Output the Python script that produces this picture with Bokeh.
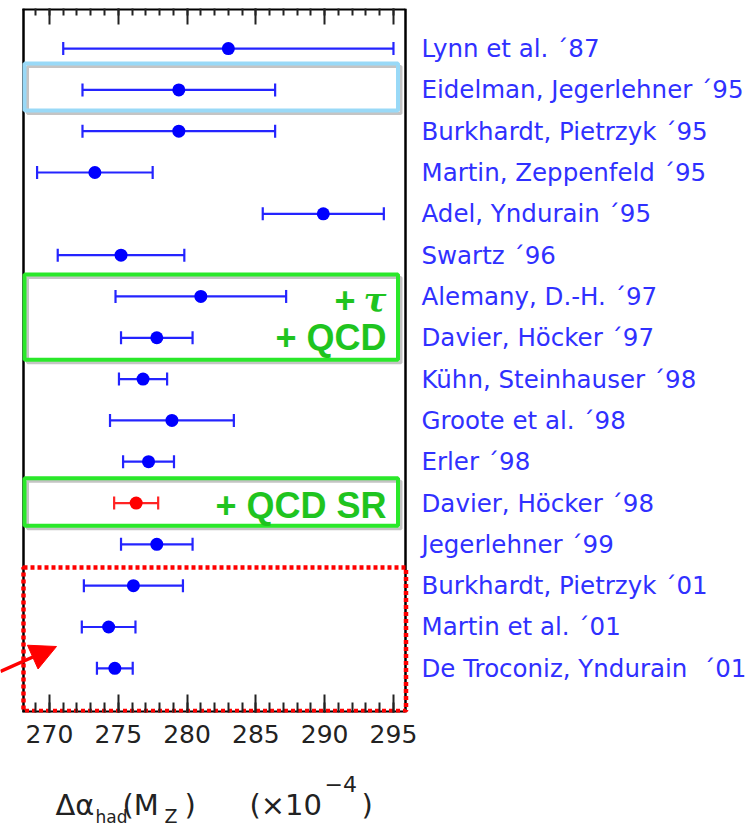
from bokeh.plotting import figure
from bokeh.layouts import column
from bokeh.models import (Range1d, LinearAxis, FixedTicker, ColumnDataSource,
                          Whisker, TeeHead, Arrow, NormalHead)
from bokeh.core.properties import value
from bokeh.embed import file_html
from bokeh.resources import INLINE

# Determinations of the hadronic contribution to the running QED coupling at M_Z (x 10^-4)
authors = [
    "Lynn et al. ´87",
    "Eidelman, Jegerlehner ´95",
    "Burkhardt, Pietrzyk ´95",
    "Martin, Zeppenfeld ´95",
    "Adel, Yndurain ´95",
    "Swartz ´96",
    "Alemany, D.-H. ´97",
    "Davier, Höcker ´97",
    "Kühn, Steinhauser ´98",
    "Groote et al. ´98",
    "Erler ´98",
    "Davier, Höcker ´98",
    "Jegerlehner ´99",
    "Burkhardt, Pietrzyk ´01",
    "Martin et al. ´01",
    "De Troconiz, Yndurain\u00a0 ´01",
]
central = [283.0, 279.4, 279.4, 273.3, 289.9, 275.2, 281.0, 277.8,
           276.8, 278.9, 277.2, 276.3, 277.8, 276.1, 274.3, 274.75]
error = [12.0, 7.0, 7.0, 4.2, 4.4, 4.6, 6.2, 2.6,
         1.75, 4.5, 1.85, 1.6, 2.6, 3.6, 1.95, 1.3]
highlight = "Davier, Höcker ´98"

# annotated groups: (first row, last row)
eidelman_rows = (2, 2)
tau_rows = (7, 8)
qcdsr_rows = (12, 12)
recent_rows = (14, 16)

tick_values = [270, 275, 280, 285, 290, 295]
minor_values = list(range(269, 296))

# ---------------------------------------------------------------- geometry
W, H_MAIN, H_TITLE = 750, 762, 64
B_TOP, B_BOTTOM = 8, 50
FRAME_H = H_MAIN - B_TOP - B_BOTTOM
CH_X0, CH_X1 = 268.04, 295.87          # data limits of the boxed panel
XPX = 13.76                             # pixels per unit of x
PANEL_LEFT = 22                         # pixel column of the panel's left edge
X_LO = CH_X0 - PANEL_LEFT / XPX
X_HI = X_LO + W / XPX
Y_TOP, Y_BOT = 0.03, 17.07
YPX = FRAME_H / (Y_BOT - Y_TOP)


def dx(px):
    """pixel column -> x data value"""
    return X_LO + px / XPX


def dy(py):
    """pixel row -> y data value"""
    return Y_TOP + (py - B_TOP) / YPX


rows = list(range(1, len(authors) + 1))
lo = [c - e for c, e in zip(central, error)]
hi = [c + e for c, e in zip(central, error)]

p = figure(width=W, height=H_MAIN, output_backend="svg", toolbar_location=None,
           x_range=Range1d(X_LO, X_HI), y_range=Range1d(Y_BOT, Y_TOP),
           y_axis_location=None, min_border_left=0, min_border_right=0,
           min_border_top=B_TOP, min_border_bottom=B_BOTTOM)
p.grid.visible = False
p.background_fill_color = "white"
p.border_fill_color = "white"
p.outline_line_color = None

xa = p.xaxis[0]
xa.ticker = FixedTicker(ticks=tick_values, minor_ticks=minor_values)
xa.axis_line_color = None
xa.major_tick_in = 18
xa.major_tick_out = 0
xa.minor_tick_in = 10
xa.minor_tick_out = 0
xa.major_tick_line_width = 2
xa.minor_tick_line_width = 2
xa.major_tick_line_color = "#222222"
xa.minor_tick_line_color = "#222222"
xa.major_label_standoff = 12
xa.major_label_text_font = "DejaVu Sans"
xa.major_label_text_font_size = "25px"
xa.major_label_text_color = "#222222"

top = LinearAxis(ticker=FixedTicker(ticks=tick_values, minor_ticks=minor_values))
top.axis_line_color = None
top.major_tick_in = 16
top.major_tick_out = 0
top.minor_tick_in = 7
top.minor_tick_out = 0
top.major_tick_line_width = 2
top.minor_tick_line_width = 2
top.major_tick_line_color = "#222222"
top.minor_tick_line_color = "#222222"
top.major_label_overrides = {v: "" for v in tick_values}
top.major_label_text_font_size = "1px"
top.major_label_standoff = 0
p.add_layout(top, "above")

# ---------------------------------------------------------------- panel frame
p.segment(x0=[dx(23), dx(405)], y0=[Y_TOP, Y_TOP], x1=[dx(23), dx(405)], y1=[Y_BOT, Y_BOT],
          line_color="black", line_width=2.5)
p.segment(x0=[CH_X0, CH_X0], y0=[Y_TOP, Y_BOT], x1=[CH_X1, CH_X1], y1=[Y_TOP, Y_BOT],
          line_color="black", line_width=4)

# ---------------------------------------------------------------- highlight boxes
box_left, box_right = dx(24), dx(397.5)
SHADOW_X, SHADOW_Y = 3 / XPX, 3 / YPX


def framed(first, last, color, top_pad, bot_pad):
    t, b = first - top_pad, last + bot_pad
    p.quad(left=[box_left + SHADOW_X], right=[box_right + SHADOW_X],
           top=[t + SHADOW_Y], bottom=[b + SHADOW_Y],
           fill_color=None, line_color="#c4c4c4", line_width=3)
    p.quad(left=[box_left], right=[box_right], top=[t], bottom=[b],
           fill_color=None, line_color=color, line_width=4)


framed(*eidelman_rows, "#99d9f7", 0.64, 0.5)
framed(*tau_rows, "#2ae82a", 0.53, 0.53)
framed(*qcdsr_rows, "#2ae82a", 0.6, 0.55)

p.quad(left=[dx(23)], right=[dx(405.5)], top=[recent_rows[0] - 0.44], bottom=[dy(710.5)],
       fill_color=None, line_color="#ff0000", line_width=4.5, line_dash="4 3")

# ---------------------------------------------------------------- error bars
for bar_color, dot_color, pick in (("#2424ff", "#0000ff", lambda a: a != highlight),
                                   ("#ff2424", "#ff0000", lambda a: a == highlight)):
    idx = [i for i, a in enumerate(authors) if pick(a)]
    src = ColumnDataSource(dict(y=[rows[i] for i in idx], x=[central[i] for i in idx],
                                lo=[lo[i] for i in idx], hi=[hi[i] for i in idx]))
    p.add_layout(Whisker(source=src, base="y", lower="lo", upper="hi", dimension="width",
                         line_color=bar_color, line_width=2.2,
                         lower_head=TeeHead(size=13, line_color=bar_color, line_width=2.2),
                         upper_head=TeeHead(size=13, line_color=bar_color, line_width=2.2)))
    p.scatter("x", "y", source=src, size=13, fill_color=dot_color, line_color=None)

# ---------------------------------------------------------------- author names
p.text(x=[dx(421)] * len(rows), y=rows, text=authors, text_baseline="middle",
       text_align="left", text_font=value("DejaVu Sans"),
       text_font_size="24.5px", text_color="#3030ff")

# ---------------------------------------------------------------- green tags
green = "#1fc41f"
tag_style = dict(text_align="right", text_baseline="middle",
                 text_font=value("Liberation Sans"), text_font_style="bold",
                 text_font_size="36px", text_color=green)
p.text(x=[dx(386)], y=[tau_rows[1]], text=["+ QCD"], **tag_style)
p.text(x=[dx(386)], y=[qcdsr_rows[0] + 0.07], text=["+ QCD SR"], **tag_style)
p.text(x=[dx(355)], y=[tau_rows[0] + 0.08], text=["+"], **tag_style)
p.text(x=[dx(386)], y=[tau_rows[0] + 0.08], text=["τ"], text_align="right",
       text_baseline="middle", text_font=value("DejaVu Serif"),
       text_font_style="bold italic", text_font_size="34px", text_color=green)

# ---------------------------------------------------------------- arrow
p.add_layout(Arrow(x_start=dx(0), y_start=dy(671), x_end=dx(56), y_end=dy(646),
                   line_color="#ff0000", line_width=3.5,
                   end=NormalHead(size=26, fill_color="#ff0000", line_color="#ff0000")))

# ---------------------------------------------------------------- axis title strip
t = figure(width=W, height=H_TITLE, output_backend="svg", toolbar_location=None,
           x_range=Range1d(0, W), y_range=Range1d(H_TITLE, 0),
           x_axis_location=None, y_axis_location=None,
           min_border_left=0, min_border_right=0, min_border_top=0, min_border_bottom=0)
t.grid.visible = False
t.outline_line_color = None
t.background_fill_color = "white"
t.border_fill_color = "white"

# (text, left edge, vertical middle, size) in strip pixels
title_parts = [
    ("Δα", 55, 42, "29px"),
    ("had", 95, 54, "17px"),
    ("(M", 122, 42, "29px"),
    ("Z", 164, 53, "19px"),
    (")", 184, 42, "29px"),
    ("(×10", 249, 42, "29px"),
    ("−4", 324, 21, "22px"),
    (")", 361, 42, "29px"),
]
for txt, px, py, fs in title_parts:
    t.text(x=[px], y=[py], text=[txt], text_align="left", text_baseline="middle",
           text_font=value("DejaVu Sans"), text_font_size=fs, text_color="#222222")

open("out.html", "w").write(file_html(column(p, t), INLINE))
